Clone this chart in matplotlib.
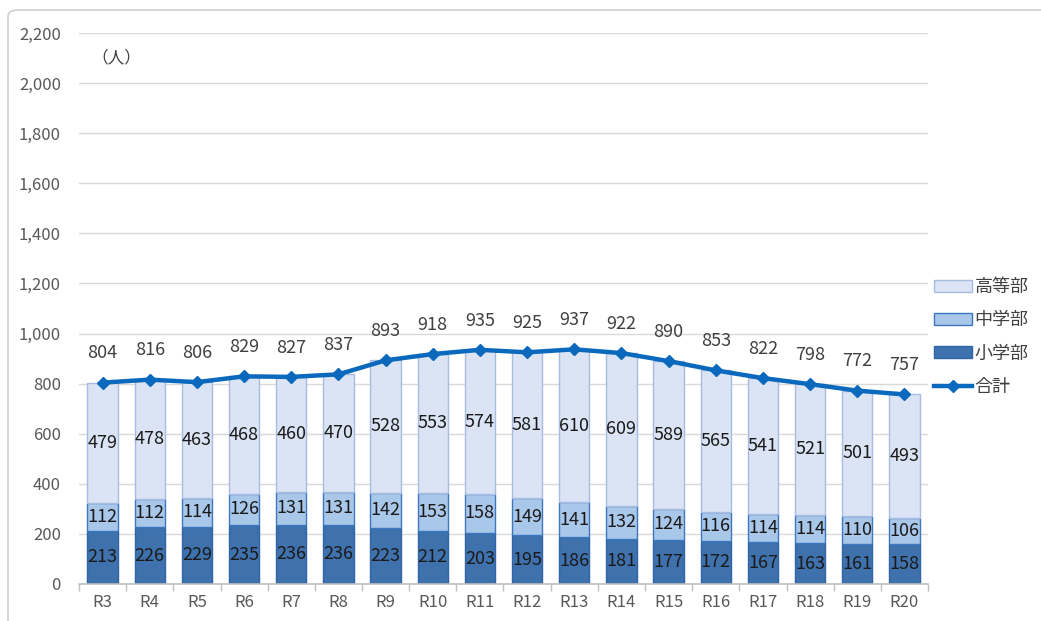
import matplotlib
matplotlib.use("Agg")
import matplotlib.pyplot as plt
from matplotlib.patches import FancyBboxPatch
from matplotlib.ticker import FuncFormatter, FixedLocator
import numpy as np

plt.rcParams['font.family'] = ['Noto Sans CJK JP', 'DejaVu Sans']

categories = ["R3", "R4", "R5", "R6", "R7", "R8", "R9", "R10", "R11", "R12",
              "R13", "R14", "R15", "R16", "R17", "R18", "R19", "R20"]
shou = [213, 226, 229, 235, 236, 236, 223, 212, 203, 195, 186, 181, 177, 172, 167, 163, 161, 158]
chu = [112, 112, 114, 126, 131, 131, 142, 153, 158, 149, 141, 132, 124, 116, 114, 114, 110, 106]
kou = [479, 478, 463, 468, 460, 470, 528, 553, 574, 581, 610, 609, 589, 565, 541, 521, 501, 493]
total = [804, 816, 806, 829, 827, 837, 893, 918, 935, 925, 937, 922, 890, 853, 822, 798, 772, 757]

fig = plt.figure(figsize=(10.41, 6.21), dpi=100)
border = FancyBboxPatch((8/1041, -0.05), 1.2, (611+31)/621, transform=fig.transFigure,
                        boxstyle="round,pad=0,rounding_size=0.01", fc="none",
                        ec="#d0d0d0", lw=1.2, zorder=0)
fig.patches.append(border)

ax = fig.add_axes([79/1041, 37/621, (928-79)/1041, (584-33)/621])
x = np.arange(len(categories))
w = 0.64

c_shou = "#3f72ad"; e_shou = "#2f65a8"
c_chu = "#a9c7e9"; e_chu = "#3b78c0"
c_kou = "#dbe4f4"; e_kou = "#a8bbe3"
c_line = "#0a68bd"

shou_a = np.array(shou); chu_a = np.array(chu); kou_a = np.array(kou)
b1 = ax.bar(x, shou_a, w, color=c_shou, edgecolor=e_shou, lw=1.0, label="小学部", zorder=2)
b2 = ax.bar(x, chu_a, w, bottom=shou_a, color=c_chu, edgecolor=e_chu, lw=1.0, label="中学部", zorder=2)
b3 = ax.bar(x, kou_a, w, bottom=shou_a + chu_a, color=c_kou, edgecolor=e_kou, lw=1.0, label="高等部", zorder=2)
ln, = ax.plot(x, total, color=c_line, lw=3.2, marker="D", ms=6.5, label="合計", zorder=4)

fs = 13
for i in range(len(categories)):
    ax.text(x[i], shou[i] / 2, str(shou[i]), ha="center", va="center", fontsize=fs, color="#1a1a1a", zorder=5)
    ax.text(x[i], shou[i] + chu[i] / 2, str(chu[i]), ha="center", va="center", fontsize=fs, color="#1a1a1a", zorder=5)
    ax.text(x[i], shou[i] + chu[i] + kou[i] / 2, str(kou[i]), ha="center", va="center", fontsize=fs, color="#1a1a1a", zorder=5)
    ax.annotate(str(total[i]), (x[i], total[i]), xytext=(0, 21), textcoords="offset points",
                ha="center", va="center", fontsize=fs, color="#404040", zorder=5)

ax.set_ylim(0, 2200)
ax.set_xlim(-0.5, len(categories) - 0.5)
ax.set_yticks(np.arange(0, 2201, 200))
ax.yaxis.set_major_formatter(FuncFormatter(lambda v, p: f"{int(v):,}"))
ax.set_xticks(x)
ax.set_xticklabels(categories)
ax.xaxis.set_minor_locator(FixedLocator(np.arange(-0.5, len(categories), 1.0)))
ax.tick_params(axis="x", which="major", length=0, pad=7, labelsize=12, labelcolor="#595959")
ax.tick_params(axis="x", which="minor", length=5, color="#bfbfbf", width=1)
ax.tick_params(axis="y", length=0, pad=13, labelsize=12, labelcolor="#595959")
ax.grid(axis="y", color="#d9d9d9", lw=1, zorder=0)
ax.set_axisbelow(True)
for s in ["top", "right", "left"]:
    ax.spines[s].set_visible(False)
ax.spines["bottom"].set_color("#bfbfbf")
ax.spines["bottom"].set_linewidth(1.2)

ax.text(0.015, 0.955, "（人）", transform=ax.transAxes, ha="left", va="center", fontsize=12, color="#404040")

leg = fig.legend([b3, b2, b1, ln], ["高等部", "中学部", "小学部", "合計"],
                 loc="center left", bbox_to_anchor=(934/1041, 1 - 337/621),
                 frameon=False, fontsize=13, handlelength=2.1, handleheight=0.65,
                 labelspacing=0.85, handletextpad=0.15, borderaxespad=0, borderpad=0)
for t in leg.get_texts():
    t.set_color("#404040")

fig.savefig("out.png", dpi=100)
